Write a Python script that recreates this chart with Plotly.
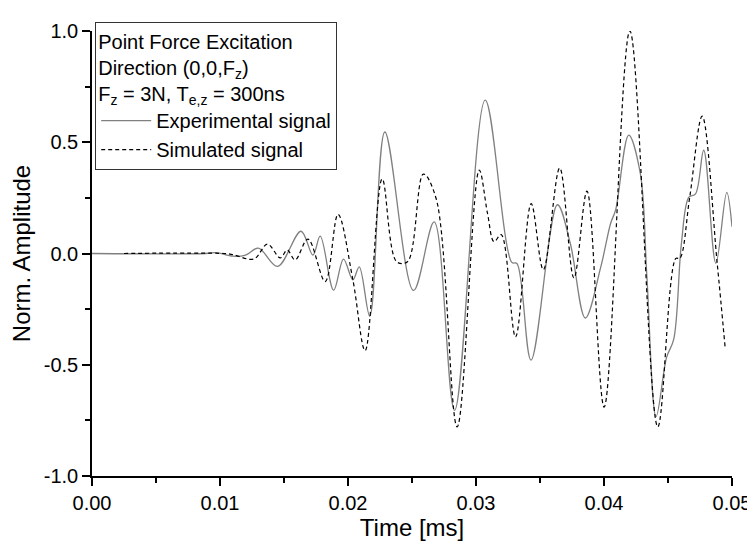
import plotly.graph_objects as go

# Experimental signal (grey solid) - time [ms], normalised amplitude
t_exp = [0.0, 0.0089, 0.0097, 0.0110, 0.0120, 0.0130, 0.0145, 0.01633, 0.01726, 0.01783,
         0.01888, 0.01965, 0.02038, 0.02088, 0.0217, 0.02288, 0.02512, 0.02673, 0.02833,
         0.03072, 0.0328, 0.0332, 0.0343, 0.03636, 0.03736, 0.03854, 0.03975, 0.04052,
         0.04091, 0.04193, 0.04284, 0.04335, 0.04407, 0.04489, 0.04545, 0.04605, 0.04663,
         0.04715, 0.04779, 0.04874, 0.04959, 0.0500]
v_exp = [0.0, 0.0, 0.004, -0.012, -0.007, 0.024, -0.058, 0.10, -0.007, 0.078,
         -0.165, -0.025, -0.118, -0.06, -0.282, 0.546, -0.166, 0.142, -0.705,
         0.689, -0.04, -0.045, -0.479, 0.219, 0.047, -0.29, -0.06, 0.136,
         0.196, 0.532, 0.359, -0.103, -0.733, -0.467, -0.385, 0.047, 0.253,
         0.268, 0.464, -0.044, 0.275, 0.12]

# Simulated signal (black dashed)
t_sim = [0.0025, 0.0103, 0.0110, 0.01264, 0.01371, 0.01471, 0.01525, 0.01587, 0.01687,
         0.01822, 0.01922, 0.02038, 0.02134, 0.02267, 0.0238, 0.02465, 0.02589, 0.02689,
         0.02853, 0.03025, 0.0309, 0.03141, 0.03197, 0.03309, 0.03431, 0.03526, 0.03654,
         0.03765, 0.03867, 0.04001, 0.04202, 0.0442, 0.04561, 0.04592, 0.04669, 0.04767,
         0.04884, 0.04946]
v_sim = [0.0, 0.0, -0.005, -0.025, 0.042, -0.02, 0.016, -0.029, 0.065,
         -0.126, 0.176, -0.118, -0.437, 0.335, -0.037, -0.037, 0.357, 0.246,
         -0.779, 0.375, 0.18, 0.053, 0.085, -0.375, 0.224, -0.073, 0.384,
         -0.11, 0.28, -0.69, 1.0, -0.779, -0.022, -0.022, 0.25, 0.617,
         -0.042, -0.42]

x_tickvals = [0.0, 0.01, 0.02, 0.03, 0.04, 0.05]
x_ticktext = ["0.00", "0.01", "0.02", "0.03", "0.04", "0.05"]
y_tickvals = [-1.0, -0.5, 0.0, 0.5, 1.0]
y_ticktext = ["-1.0", "-0.5", "0.0", "0.5", "1.0"]

legend_title = ("Point Force Excitation<br>Direction (0,0,F<sub>z</sub>)<br>"
                "F<sub>z</sub> = 3N, T<sub>e,z</sub> = 300ns")

FONT = "Liberation Sans, Arial, sans-serif"

fig = go.Figure()
fig.add_trace(go.Scatter(x=t_exp, y=v_exp, mode="lines", name="Experimental signal",
                         line=dict(color="#808080", width=1.3, shape="spline", smoothing=1.0)))
fig.add_trace(go.Scatter(x=t_sim, y=v_sim, mode="lines", name="Simulated signal",
                         line=dict(color="black", width=1.2, dash="4px,3px",
                                   shape="spline", smoothing=1.0)))

axis_common = dict(showgrid=False, zeroline=False, showline=True, linecolor="black",
                   linewidth=1.5, ticks="outside", tickwidth=1.5, tickcolor="black",
                   tickfont=dict(size=20, color="black", family=FONT))

fig.update_xaxes(range=[0, 0.05], tickmode="array", tickvals=x_tickvals,
                 ticktext=x_ticktext, ticklen=8,
                 minor=dict(tickmode="linear", tick0=0, dtick=0.005, ticks="outside",
                            ticklen=5, tickwidth=1.5, tickcolor="black"),
                 title=dict(text="Time [ms]", font=dict(size=24, color="black", family=FONT),
                            standoff=4),
                 **axis_common)
fig.update_yaxes(range=[-1, 1], tickmode="array", tickvals=y_tickvals,
                 ticktext=y_ticktext, ticklen=8,
                 minor=dict(tickmode="linear", tick0=0, dtick=0.25, ticks="outside",
                            ticklen=5, tickwidth=1.5, tickcolor="black"),
                 title=dict(text="Norm. Amplitude", font=dict(size=24, color="black", family=FONT),
                            standoff=6),
                 **axis_common)

fig.update_layout(
    width=755, height=547,
    margin=dict(l=84, r=22, t=17, b=79),
    plot_bgcolor="white", paper_bgcolor="white",
    font=dict(family=FONT, color="black"),
    showlegend=True,
    legend=dict(x=0.005, y=1.02, xanchor="left", yanchor="top",
                bgcolor="white", bordercolor="#333333", borderwidth=1,
                font=dict(size=20, family=FONT, color="black"),
                title=dict(text=legend_title, side="top",
                           font=dict(size=20, family=FONT, color="black")),
                itemwidth=50, tracegroupgap=0),
)

fig.write_html("out.html")
